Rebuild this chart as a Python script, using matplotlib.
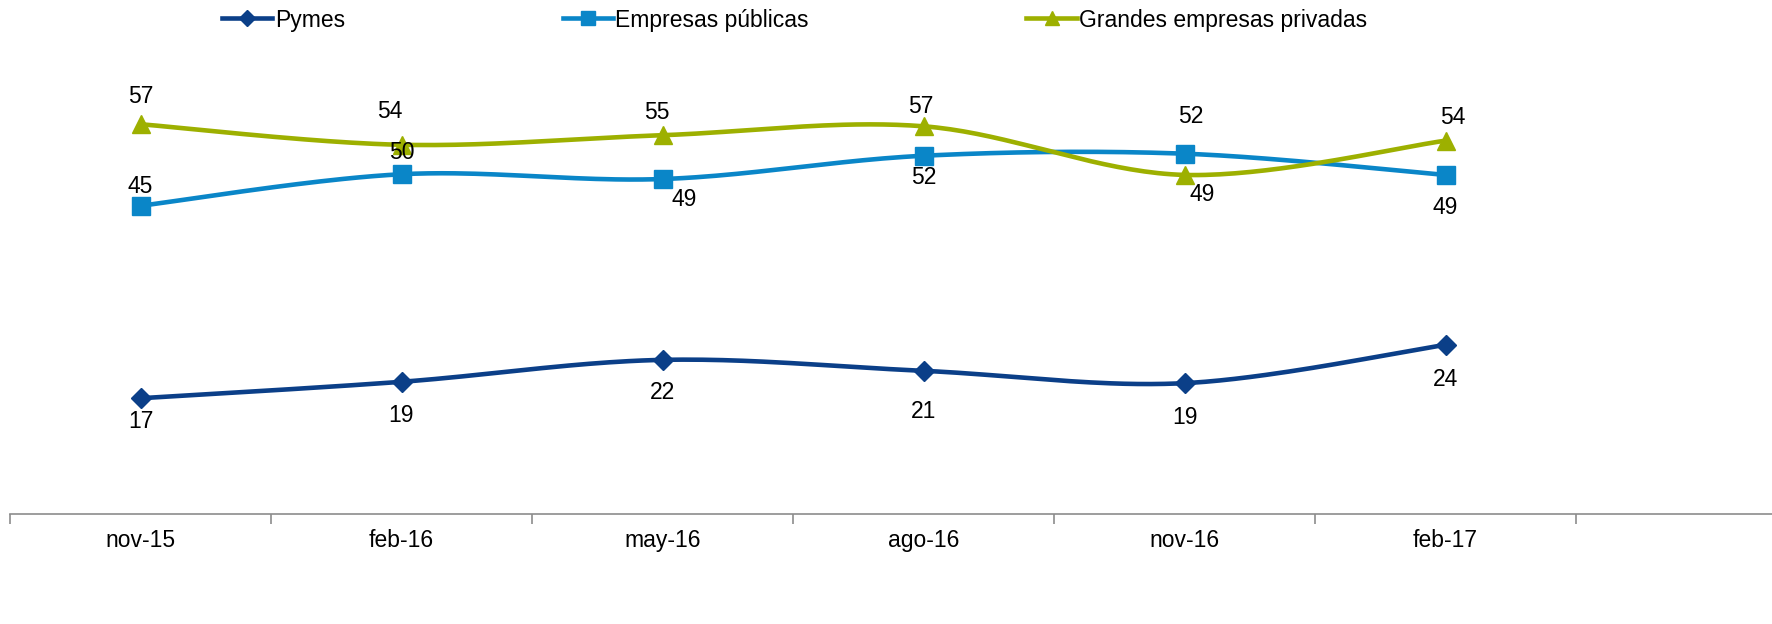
import numpy as np
import matplotlib
matplotlib.use("Agg")
import matplotlib.pyplot as plt
from matplotlib.lines import Line2D

plt.rcParams['font.family'] = ['Liberation Sans', 'DejaVu Sans']

categories = ["nov-15", "feb-16", "may-16", "ago-16", "nov-16", "feb-17"]
pymes = [16.9, 19.3, 22.5, 20.9, 19.1, 24.7]
publicas = [45.0, 49.6, 48.9, 52.3, 52.6, 49.5]
grandes = [56.9, 53.9, 55.3, 56.6, 49.5, 54.5]
pymes_lbl = [17, 19, 22, 21, 19, 24]
publicas_lbl = [45, 50, 49, 52, 52, 49]
grandes_lbl = [57, 54, 55, 57, 49, 54]
series_names = ["Pymes", "Empresas públicas", "Grandes empresas privadas"]

# label offsets (pixels) per point
pymes_off = [(0, -23), (0, -34), (0, -33), (0, -41), (0, -34), (0, -35)]
publicas_off = [(0, 19), (0, 22), (22, -20), (0, -22), (6, 37), (0, -33)]
grandes_off = [(0, 28), (-12, 33), (-6, 23), (-3, 20), (18, -20), (7, 23)]

colors = ["#0B3F88", "#0A86C8", "#9DB000"]
markers = ["D", "s", "^"]
msizes = [10, 12.5, 13]


def smooth(xs, ys, n=40):
    xs = np.asarray(xs, float); ys = np.asarray(ys, float)
    P = np.column_stack([xs, ys])
    out = []
    for i in range(len(P) - 1):
        p0 = P[i - 1] if i > 0 else P[i]
        p1 = P[i]; p2 = P[i + 1]
        p3 = P[i + 2] if i + 2 < len(P) else P[i + 1]
        c1 = p1 + (p2 - p0) / 6.0
        c2 = p2 - (p3 - p1) / 6.0
        t = np.linspace(0, 1, n)[:, None]
        seg = ((1 - t) ** 3) * p1 + 3 * ((1 - t) ** 2) * t * c1 + 3 * (1 - t) * t ** 2 * c2 + t ** 3 * p2
        out.append(seg if i == 0 else seg[1:])
    s = np.vstack(out)
    return s[:, 0], s[:, 1]


W, H = 1772, 624
fig = plt.figure(figsize=(W / 100, H / 100), dpi=100)
ax_left, ax_right = 10, 1772
ax_top, ax_bot = 35, 514
ax = fig.add_axes([ax_left / W, 1 - ax_bot / H, (ax_right - ax_left) / W, (ax_bot - ax_top) / H])
ax.set_xlim(-0.5, -0.5 + (ax_right - ax_left) / 261.0)
ax.set_ylim(0, (ax_bot - ax_top) / 6.85)

x = np.arange(len(categories))
data = [pymes, publicas, grandes]
labels = [pymes_lbl, publicas_lbl, grandes_lbl]
offs = [pymes_off, publicas_off, grandes_off]
handles = []
for i in range(3):
    sx, sy = smooth(x, data[i])
    ax.plot(sx, sy, color=colors[i], lw=3.3, solid_capstyle='round', zorder=2)
    ax.plot(x, data[i], linestyle='none', marker=markers[i], ms=msizes[i],
            color=colors[i], zorder=3)
    for xi, yi, lb, (dx, dy) in zip(x, data[i], labels[i], offs[i]):
        ax.annotate(str(lb), (xi, yi), xytext=(dx, dy), textcoords='offset pixels',
                    ha='center', va='center', fontsize=16.5, color='#000000', zorder=4)
    handles.append(Line2D([], [], color=colors[i], lw=3.3, marker=markers[i], ms=msizes[i] * 0.8))

for s in ['top', 'right', 'left']:
    ax.spines[s].set_visible(False)
ax.spines['bottom'].set_color('#8C8C8C')
ax.spines['bottom'].set_linewidth(1.2)
ax.set_yticks([])
ax.set_xticks(np.arange(-0.5, 6.5, 1.0))
ax.set_xticklabels([])
ax.tick_params(axis='x', which='major', length=7.5, width=1.2, color='#8C8C8C', direction='out')
ax.set_xticks(x, minor=True)
ax.set_xticklabels(categories, minor=True)
ax.tick_params(axis='x', which='minor', length=0, pad=11, labelsize=16.5)

leg = fig.legend(handles=handles, labels=series_names, loc='center left',
                 bbox_to_anchor=(222 / W, 1 - 20 / H), ncol=3, frameon=False,
                 fontsize=16.5, handlelength=2.2, handletextpad=0.1,
                 columnspacing=9.5, borderaxespad=0, borderpad=0)

fig.savefig("out.png", dpi=100)
